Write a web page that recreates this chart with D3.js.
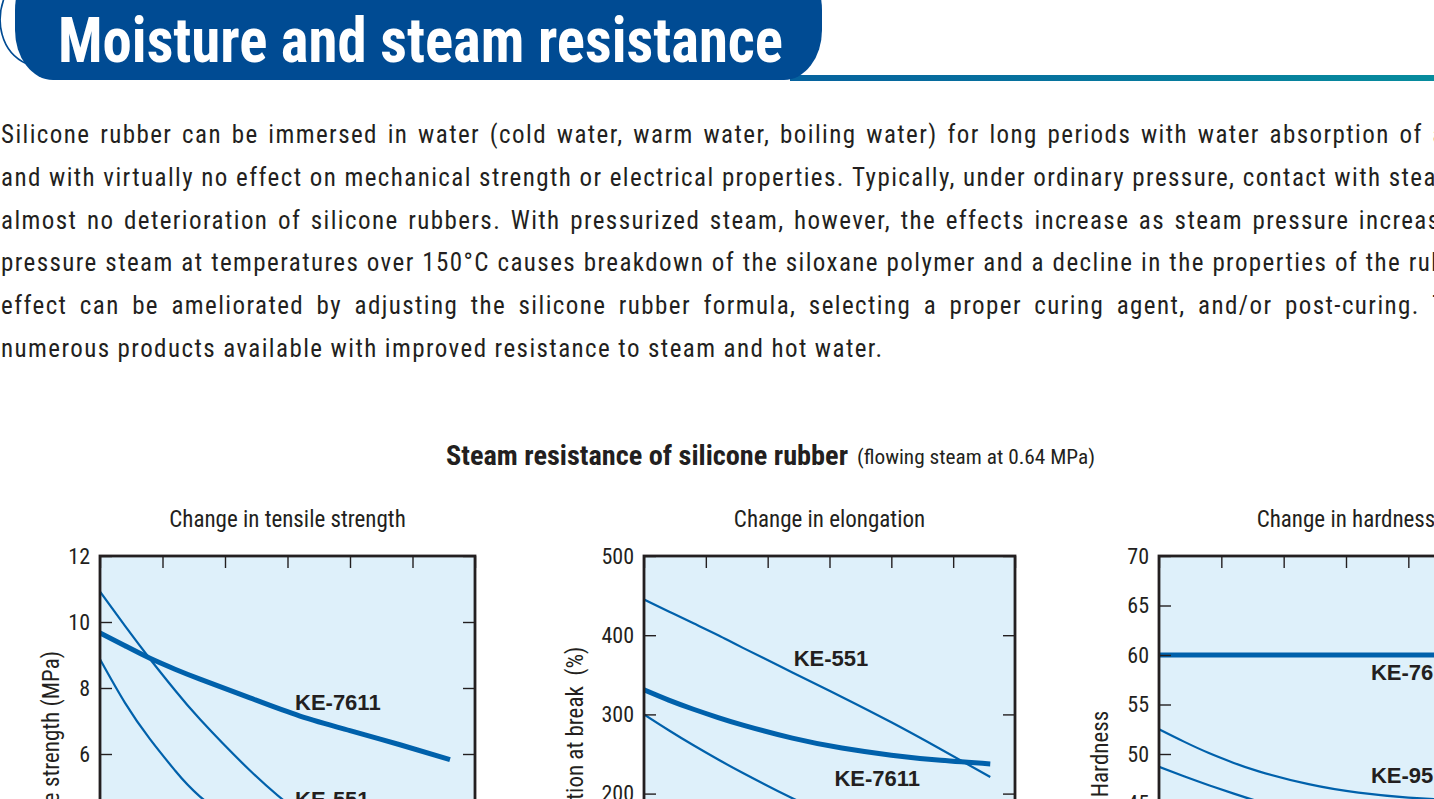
<!DOCTYPE html>
<html>
<head>
<meta charset="utf-8">
<script src="https://cdn.jsdelivr.net/npm/d3@7"></script>
<style>
  body { margin: 0; overflow: hidden; background: #fff; }
  text { font-family: "Liberation Sans Narrow", "Roboto Condensed", "DejaVu Sans Condensed", sans-serif; fill: #231f20; }
  .bold-label { font-family: "Liberation Sans", Arial, sans-serif; font-weight: bold; }
</style>
</head>
<body>
<svg id="page"></svg>
<script>
// ---- data ----
var days = [0, 2, 4, 6, 8, 12, 16, 20, 24, 28];
var xTicks = [0, 5, 10, 15, 20, 25, 30];

var tensileKE7611 = [9.67, 9.28, 8.9, 8.57, 8.27, 7.7, 7.15, 6.71, 6.28, 5.83];
var tensileKE551  = [10.92, 9.88, 8.88, 7.93, 7.05, 5.5, 4.2, 3.2, 2.5, 2.0];
var tensileKE951  = [8.87, 7.55, 6.45, 5.5, 4.71, 3.6, 2.9, 2.4, 2.1, 1.9];

var elongKE551  = [445, 430, 415, 400, 384, 353, 322, 290, 256, 221];
var elongKE7611 = [331, 318, 306.5, 296, 286.5, 270, 257.5, 248.5, 242, 237.5];
var elongKE951  = [300, 280, 261, 243, 226, 194, 165, 139, 116, 96];

var hardKE7611 = [60, 60, 60, 60, 60, 60, 60, 60, 60, 60];
var hardKE951  = [52.5, 51.25, 50.1, 49.1, 48.25, 46.95, 46.1, 45.6, 45.35, 45.3];
var hardKE551  = [48.7, 47.75, 46.85, 46.0, 45.2, 43.75, 42.5, 41.45, 40.6, 40.0];

var tensileTicks = [0, 2, 4, 6, 8, 10, 12];
var elongTicks = [0, 100, 200, 300, 400, 500];
var hardTicks = [30, 35, 40, 45, 50, 55, 60, 65, 70];

var paraLines = [
  "Silicone rubber can be immersed in water (cold water, warm water, boiling water) for long periods with water absorption of about 1%,",
  "and with virtually no effect on mechanical strength or electrical properties. Typically, under ordinary pressure, contact with steam causes",
  "almost no deterioration of silicone rubbers. With pressurized steam, however, the effects increase as steam pressure increases. High-",
  "pressure steam at temperatures over 150°C causes breakdown of the siloxane polymer and a decline in the properties of the rubber. This",
  "effect can be ameliorated by adjusting the silicone rubber formula, selecting a proper curing agent, and/or post-curing. There are",
  "numerous products available with improved resistance to steam and hot water."
];

// ---- layout ----
var W = 1434;
var blue = "#004b93";
var lineBlue = "#0061ab";
var plotTop = 556, plotBottom = 952;

var svg = d3.select("#page").attr("width", W).attr("height", 1000);

/**
 * Header pill and gradient rule
 */
var defs = svg.append("defs");
var grad = defs.append("linearGradient").attr("id", "rule");
grad.append("stop").attr("offset", "0%").attr("stop-color", "#06629e");
grad.append("stop").attr("offset", "100%").attr("stop-color", "#078c9d");

svg.append("rect").attr("x", 790).attr("y", 75).attr("width", W - 790).attr("height", 6)
    .attr("fill", "url(#rule)");

svg.append("path").attr("d", "M5,-4 C-5,20 0,52 27,64")
    .attr("fill", "none").attr("stroke", blue).attr("stroke-width", 1.6);

svg.append("rect").attr("x", 15).attr("y", -40).attr("width", 807).attr("height", 120)
    .attr("rx", 38).attr("ry", 50).attr("fill", blue);

svg.append("text")
    .attr("x", 58).attr("y", 62)
    .attr("font-size", 63).attr("font-weight", "bold")
    .attr("textLength", 725).attr("lengthAdjust", "spacingAndGlyphs")
    .style("fill", "#fff")
    .text("Moisture and steam resistance");

/**
 * Paragraph, justified word by word
 */
var para = svg.append("g");
var PARA_SIZE = 25, PARA_X = 1, PARA_W = 1542;
var baselines = [143, 186, 228.5, 271, 314, 356.5];

var probe = para.append("text").attr("font-size", PARA_SIZE).text(paraLines[5]);
var w6 = probe.node().getComputedTextLength();
probe.remove();
var ls = (881 - w6) / (paraLines[5].length - 1);

paraLines.forEach(function (line, i) {
    if (i === paraLines.length - 1) {
        para.append("text").attr("x", PARA_X).attr("y", baselines[i])
            .attr("font-size", PARA_SIZE).style("letter-spacing", ls + "px").text(line);
        return;
    }
    var words = line.split(" ");
    var nodes = words.map(function (wd) {
        return para.append("text").attr("y", baselines[i])
            .attr("font-size", PARA_SIZE).style("letter-spacing", ls + "px").text(wd);
    });
    var widths = nodes.map(function (n) { return n.node().getComputedTextLength(); });
    var gap = (PARA_W - d3.sum(widths)) / (words.length - 1);
    var cx = PARA_X;
    nodes.forEach(function (n, k) {
        n.attr("x", cx);
        cx += widths[k] + gap;
    });
});

/**
 * Titles
 */
svg.append("text").attr("x", 446).attr("y", 465)
    .attr("font-size", 27).attr("font-weight", "bold")
    .attr("textLength", 402).attr("lengthAdjust", "spacingAndGlyphs")
    .text("Steam resistance of silicone rubber");
svg.append("text").attr("x", 857).attr("y", 464)
    .attr("font-size", 20.5)
    .attr("textLength", 238).attr("lengthAdjust", "spacingAndGlyphs")
    .text("(flowing steam at 0.64 MPa)");

/**
 * The three charts
 */
var charts = [
    {
        left: 100, right: 475, title: "Change in tensile strength",
        ylabel: "Tensile strength (MPa)", ylabelX: 59,
        yDomain: [0, 12], yTicks: tensileTicks,
        series: [
            { name: "KE-551", values: tensileKE551, thick: false, lx: 15.6, ly: 4.39 },
            { name: "KE-951", values: tensileKE951, thick: false, lx: 8.5, ly: 2.2 },
            { name: "KE-7611", values: tensileKE7611, thick: true, lx: 15.6, ly: 7.33 }
        ]
    },
    {
        left: 644, right: 1015, title: "Change in elongation",
        ylabel: "Elongation at break  (%)", ylabelX: 583,
        yDomain: [0, 500], yTicks: elongTicks,
        series: [
            { name: "KE-551", values: elongKE551, thick: false, lx: 12.1, ly: 361 },
            { name: "KE-951", values: elongKE951, thick: false, lx: 12, ly: 120 },
            { name: "KE-7611", values: elongKE7611, thick: true, lx: 15.4, ly: 209.6 }
        ]
    },
    {
        left: 1159, right: 1533, title: "Change in hardness",
        ylabel: "Hardness", ylabelX: 1108,
        yDomain: [30, 70], yTicks: hardTicks,
        series: [
            { name: "KE-951", values: hardKE951, thick: false, lx: 17, ly: 47.07 },
            { name: "KE-551", values: hardKE551, thick: false, lx: 17, ly: 38.5 },
            { name: "KE-7611", values: hardKE7611, thick: true, lx: 17, ly: 57.5 }
        ]
    }
];

charts.forEach(function (c, ci) {
    var x = d3.scaleLinear().domain([0, 30]).range([c.left, c.right]);
    var y = d3.scaleLinear().domain(c.yDomain).range([plotBottom, plotTop]);
    var g = svg.append("g");

    g.append("text").attr("x", (c.left + c.right) / 2).attr("y", 527)
        .attr("text-anchor", "middle").attr("font-size", 23).text(c.title);

    g.append("rect").attr("x", c.left).attr("y", plotTop)
        .attr("width", c.right - c.left).attr("height", plotBottom - plotTop)
        .attr("fill", "#def0fa");

    defs.append("clipPath").attr("id", "clip" + ci).append("rect")
        .attr("x", c.left).attr("y", plotTop)
        .attr("width", c.right - c.left).attr("height", plotBottom - plotTop);

    var lineFunc = d3.line()
        .x(function (d) { return x(d[0]); })
        .y(function (d) { return y(d[1]); })
        .curve(d3.curveNatural);

    var lines = g.append("g").attr("clip-path", "url(#clip" + ci + ")");
    c.series.forEach(function (s) {
        lines.append("path")
            .datum(days.map(function (d, k) { return [d, s.values[k]]; }))
            .attr("d", lineFunc)
            .attr("fill", "none")
            .attr("stroke", lineBlue)
            .attr("stroke-width", s.thick ? 5 : 2.2);
    });

    // inward ticks on all four sides
    var axL = g.append("g").attr("transform", "translate(" + c.left + ",0)")
        .call(d3.axisLeft(y).tickValues(c.yTicks).tickSize(-12).tickPadding(10));
    var axR = g.append("g").attr("transform", "translate(" + c.right + ",0)")
        .call(d3.axisRight(y).tickValues(c.yTicks).tickSize(-12).tickFormat(""));
    var axT = g.append("g").attr("transform", "translate(0," + plotTop + ")")
        .call(d3.axisTop(x).tickValues(xTicks).tickSize(-12).tickFormat(""));
    var axB = g.append("g").attr("transform", "translate(0," + plotBottom + ")")
        .call(d3.axisBottom(x).tickValues(xTicks).tickSize(-12).tickFormat(""));

    [axL, axR, axT, axB].forEach(function (a) {
        a.select(".domain").remove();
        a.attr("font-family", null).attr("font-size", 22);
        a.selectAll(".tick line").attr("stroke", "#231f20").attr("stroke-width", 1.4);
    });

    g.append("rect").attr("x", c.left).attr("y", plotTop)
        .attr("width", c.right - c.left).attr("height", plotBottom - plotTop)
        .attr("fill", "none").attr("stroke", "#231f20").attr("stroke-width", 2.8);

    g.append("text")
        .attr("transform", "translate(" + c.ylabelX + "," + ((plotTop + plotBottom) / 2) + ") rotate(-90)")
        .attr("text-anchor", "middle").attr("font-size", 23)
        .style("white-space", "pre")
        .text(c.ylabel);

    c.series.forEach(function (s) {
        g.append("text").attr("class", "bold-label")
            .attr("x", x(s.lx)).attr("y", y(s.ly))
            .attr("font-size", 22).text(s.name);
    });
});
</script>
</body>
</html>
